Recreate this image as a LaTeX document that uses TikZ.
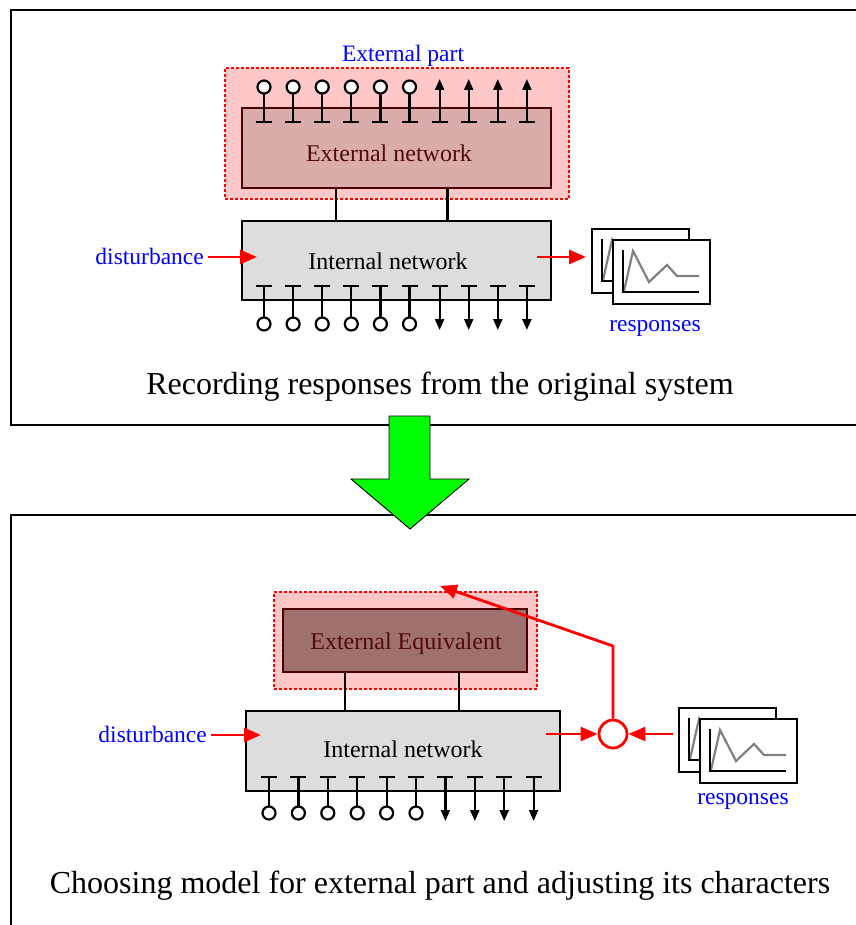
\documentclass[tikz,border=0pt]{standalone}
\usepackage{fontspec}
\setmainfont{Liberation Serif}
\usetikzlibrary{arrows.meta}

\definecolor{boxgray}{RGB}{221,221,221}
\definecolor{hatchpink}{RGB}{255,200,200}
\definecolor{extnetfill}{RGB}{218,172,172}
\definecolor{equivfill}{RGB}{160,112,112}
\definecolor{darktext}{RGB}{80,12,12}
\definecolor{curvegray}{RGB}{128,128,128}
\definecolor{arrowgreen}{RGB}{0,255,0}
\definecolor{labelblue}{RGB}{0,0,255}

\tikzset{
  panel/.style={draw=black, line width=2.4pt},
  zone/.style={draw=red, line width=1.8pt, dash pattern=on 3pt off 2pt, fill=hatchpink,
    inner sep=0pt},
  netbox/.style={draw=black, line width=2.2pt, fill=boxgray, inner sep=0pt},
  extbox/.style={draw=black!70!red, line width=2.2pt, fill=extnetfill, inner sep=0pt},
  equivbox/.style={draw=black!70!red, line width=2.2pt, fill=equivfill, inner sep=0pt},
  boxtext/.style={font=\fontsize{24}{28}\selectfont, inner sep=0pt},
  lbl/.style={text=labelblue, font=\fontsize{23.5}{28}\selectfont, inner sep=0pt},
  caption/.style={font=\fontsize{32}{38}\selectfont, inner sep=0pt},
  wire/.style={draw=black, line width=2.2pt},
  term/.style={draw=black, line width=2.2pt, fill=white},
  termarrow/.style={draw=black, line width=2.2pt, -{Triangle[length=11pt,width=9pt]}},
  redarrow/.style={draw=red, line width=2.8pt, -{Triangle[length=17pt,width=14pt]}},
  respframe/.style={draw=black, line width=2.4pt, fill=white, minimum width=97pt,
    minimum height=64pt, inner sep=0pt, anchor=north west},
  axis/.style={draw=black, line width=2.2pt},
  curve/.style={draw=curvegray, line width=2.2pt, line join=miter},
}

% chart inside a response window, origin at the window's top-left corner
\newcommand{\respchart}[2]{%
  \begin{scope}[shift={(#1,#2)}]
    \draw[curve] (12,52) -- (21,12) -- (37,43) -- (55,26) -- (65,37) -- (87,37);
    \draw[axis] (11,11) -- (11,53) -- (87,53);
  \end{scope}}

% two overlapping response windows, front window top-left at (#1,#2)
\newcommand{\respwindows}[3]{%
  \node[respframe] (#3back) at (#1-21,#2-11) {};
  \respchart{#1-21}{#2-11}
  \node[respframe] (#3front) at (#1,#2) {};
  \respchart{#1}{#2}}

\begin{document}
\begin{tikzpicture}[x=1pt,y=-1pt]
  \useasboundingbox (0,0) rectangle (855,925);

  % ---------------- upper panel ----------------
  \draw[panel] (11,10) rectangle (860,425);

  \node[zone, minimum width=344pt, minimum height=131pt] (extzone) at (397,133.5) {};
  \node[lbl] (extlabel) at (403,56) {External part};
  \node[extbox, minimum width=309pt, minimum height=80pt] (extnet) at (396.5,148) {};
  \node[boxtext, text=darktext] (extnettext) at (389,153) {External network};

  % terminals on top of the external network
  \foreach \x in {264,293.1,322.2,351.3,380.4,409.5} {
    \draw[wire] (\x-8,122) -- (\x+8,122);
    \draw[wire] (\x,122) -- (\x,93.5);
    \draw[term] (\x,87) circle[radius=6.5pt];
  }
  \foreach \x in {439.6,468.7,497.8,526.9} {
    \draw[wire] (\x-8,122) -- (\x+8,122);
    \draw[termarrow] (\x,122) -- (\x,79);
  }

  \node[netbox, minimum width=309pt, minimum height=79pt] (intnet) at (396.5,260.5) {};
  \node[boxtext] (intnettext) at (388,261) {Internal network};

  % ties between external and internal networks
  \coordinate (tieA) at (336,221);
  \coordinate (tieB) at (447.5,221);
  \draw[wire] (tieA |- extnet.south) -- (tieA);
  \draw[wire] (tieB |- extnet.south) -- (tieB);

  % terminals below the internal network
  \foreach \x in {264,293.1,322.2,351.3,380.4,409.5} {
    \draw[wire] (\x-8,286) -- (\x+8,286);
    \draw[wire] (\x,286) -- (\x,317.5);
    \draw[term] (\x,324) circle[radius=6.5pt];
  }
  \foreach \x in {439.6,468.7,497.8,526.9} {
    \draw[wire] (\x-8,286) -- (\x+8,286);
    \draw[termarrow] (\x,286) -- (\x,330);
  }

  \node[lbl, anchor=east] (dist1) at (204,256) {disturbance};
  \coordinate (dist1tip) at (257,257);
  \draw[redarrow] (dist1.east |- dist1tip) ++(4,0) -- (dist1tip);

  \respwindows{612}{239}{resp1}
  \coordinate (out1start) at (537,257);
  \coordinate (out1tip) at (586,257);
  \draw[redarrow] (out1start) -- (out1tip);
  \node[lbl] (resp1label) at (655,328) {responses};

  \node[caption] (cap1) at (440,387) {Recording responses from the original system};

  % ---------------- lower panel ----------------
  \draw[panel] (11,515) rectangle (860,940);

  \node[zone, minimum width=263pt, minimum height=97pt] (equivzone) at (405.5,640.5) {};
  \node[equivbox, minimum width=244pt, minimum height=63pt] (equiv) at (405,640.5) {};
  \node[boxtext, text=darktext] (equivtext) at (406,644) {External Equivalent};

  \node[netbox, minimum width=314pt, minimum height=80pt] (intnet2) at (403,751) {};
  \node[boxtext] (intnet2text) at (403,749) {Internal network};

  \coordinate (tieC) at (345,711);
  \coordinate (tieD) at (459,711);
  \draw[wire] (tieC |- equiv.south) -- (tieC);
  \draw[wire] (tieD |- equiv.south) -- (tieD);

  \foreach \x in {269,298.4,327.8,357.2,386.6,416} {
    \draw[wire] (\x-8,777) -- (\x+8,777);
    \draw[wire] (\x,777) -- (\x,806.5);
    \draw[term] (\x,813) circle[radius=6.5pt];
  }
  \foreach \x in {445.4,474.8,504.2,533.6} {
    \draw[wire] (\x-8,777) -- (\x+8,777);
    \draw[termarrow] (\x,777) -- (\x,821);
  }

  \node[lbl, anchor=east] (dist2) at (207,734) {disturbance};
  \coordinate (dist2tip) at (261,735);
  \draw[redarrow] (dist2.east |- dist2tip) ++(4,0) -- (dist2tip);

  % comparison point
  \node[circle, draw=red, line width=2.8pt, minimum size=28pt, inner sep=0pt] (sum) at (613,734) {};
  \coordinate (out2start) at (546,734);
  \draw[redarrow] (out2start) -- (sum.west);

  \respwindows{699}{718}{resp2}
  \coordinate (resp2start) at (673,734);
  \draw[redarrow] (resp2start) -- (sum.east);
  \node[lbl] (resp2label) at (743,801) {responses};

  % adjustment feedback to the external equivalent
  \coordinate (fbbend) at (613,646);
  \coordinate (fbtip) at (440,586);
  \draw[redarrow, line join=miter] (sum.north) -- (fbbend) -- (fbtip);

  \node[caption] (cap2) at (440,886) {Choosing model for external part and adjusting its characters};

  % transition arrow between the panels
  \draw[draw=black, line width=0.9pt, fill=arrowgreen]
    (389,416) -- (430,416) -- (430,479) -- (469,479) -- (410,529)
    -- (351,479) -- (389,479) -- cycle;
\end{tikzpicture}
\end{document}
